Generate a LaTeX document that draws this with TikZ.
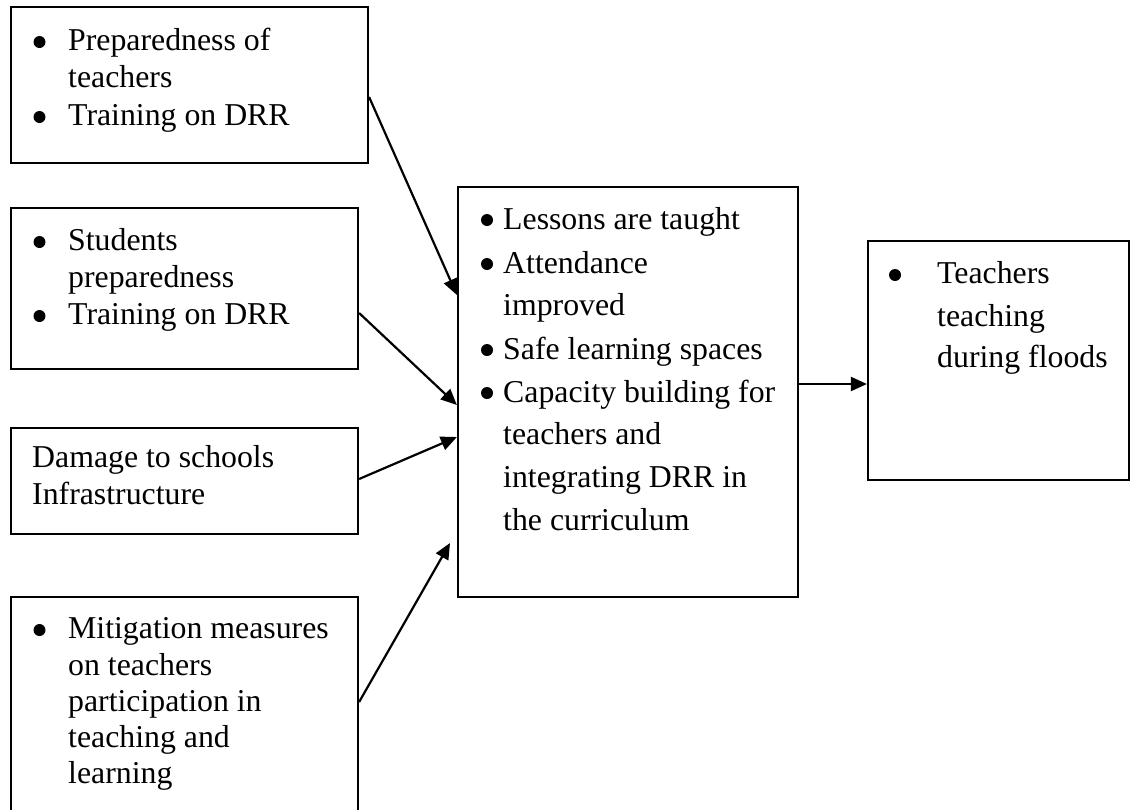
\documentclass[tikz,border=0pt]{standalone}
\usepackage{fontspec}
\setmainfont{Liberation Serif}
\usetikzlibrary{arrows.meta}
\begin{document}
\begin{tikzpicture}[x=1pt,y=-1pt,
  box/.style={draw=black,line width=2.2pt,rectangle,inner sep=0pt},
  txt/.style={anchor=base west,inner sep=0pt,font=\fontsize{31.8pt}{38pt}\selectfont},
  dot/.style={fill=black},
  arr/.style={line width=2.2pt,-{Triangle[length=16pt,width=14pt]}}]
\useasboundingbox (0,0) rectangle (1131,809);
\clip (0,0) rectangle (1131,809);
% boxes
\node[box,minimum width=357pt,minimum height=156pt] (b1) at (189.5,85) {};
\node[box,minimum width=347pt,minimum height=161pt] (b2) at (184.5,288.5) {};
\node[box,minimum width=347pt,minimum height=106pt] (b3) at (184.5,481) {};
\node[box,minimum width=347pt,minimum height=233pt] (b4) at (184.5,713.5) {};
\node[box,minimum width=340pt,minimum height=410pt] (mid) at (628,392) {};
\node[box,minimum width=261pt,minimum height=239pt] (out) at (998.5,360.5) {};
% bullets
\foreach \p in {(39.5,42),(39.5,117),(39.5,242),(39.5,316),(39.5,630),
                (487,220),(487,264),(487,350),(487,393),(895,275)}
  \fill[dot] \p circle (6pt);
% box 1
\node[txt] (b1t1) at (68,50) {Preparedness of};
\node[txt] (b1t2) at (68,87) {teachers};
\node[txt] (b1t3) at (68,125) {Training on DRR};
% box 2
\node[txt] (b2t1) at (68,250) {Students};
\node[txt] (b2t2) at (68,287) {preparedness};
\node[txt] (b2t3) at (68,324) {Training on DRR};
% box 3
\node[txt] (b3t1) at (32,467) {Damage to schools};
\node[txt] (b3t2) at (32,504) {Infrastructure};
% box 4
\node[txt] (b4t1) at (68,638) {Mitigation measures};
\node[txt] (b4t2) at (68,675) {on teachers};
\node[txt] (b4t3) at (68,711) {participation in};
\node[txt] (b4t4) at (68,747) {teaching and};
\node[txt] (b4t5) at (68,783) {learning};
% middle box
\node[txt] (mt1) at (503,229) {Lessons are taught};
\node[txt] (mt2) at (503,273) {Attendance};
\node[txt] (mt3) at (503,315) {improved};
\node[txt] (mt4) at (503,359) {Safe learning spaces};
\node[txt] (mt5) at (503,402) {Capacity building for};
\node[txt] (mt6) at (503,444) {teachers and};
\node[txt] (mt7) at (503,487) {integrating DRR in};
\node[txt] (mt8) at (503,530) {the curriculum};
% output box
\node[txt] (ot1) at (937,283) {Teachers};
\node[txt] (ot2) at (937,326) {teaching};
\node[txt] (ot3) at (937,367) {during floods};
% connectors
\coordinate (e4) at (450,543);
\draw[arr] ([yshift=-12pt]b1.east) -- ([yshift=97pt]mid.west);
\draw[arr] ([yshift=-24.5pt]b2.east) -- ([yshift=-13pt]mid.west);
\draw[arr] ([yshift=2pt]b3.east) -- ([yshift=-45pt]mid.west);
\draw[arr] ([yshift=11.5pt]b4.east) -- (e4);
\draw[arr] ([yshift=8pt]mid.east) -- ([yshift=-23.5pt]out.west);
\end{tikzpicture}
\end{document}
